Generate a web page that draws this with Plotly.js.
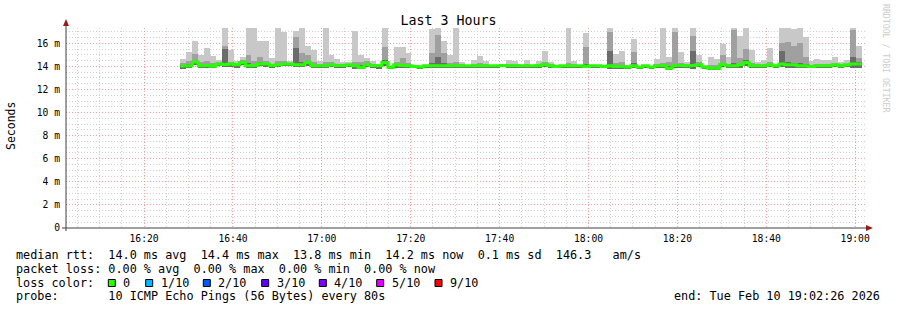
<!DOCTYPE html>
<html>
<head>
<meta charset="utf-8">
<script src="https://cdn.plot.ly/plotly-3.0.1.min.js"></script>
<style>html,body{margin:0;padding:0;background:#fff;}#chart{width:897px;height:310px;}</style>
</head>
<body>
<div id="chart"></div>
<script>
// ---- data (milliseconds), one value per 80 s step starting at stepStart ----
const stepStart = Date.UTC(2026, 1, 10, 16, 28, 10);
const stepSeconds = 80;
const pingMax = [14.66,15.24,16.2,14.96,15.6,14.9,14.6,17.36,15.4,14.45,14.81,17.36,17.36,16.2,16.2,14.7,17.36,16.98,14.5,17.07,17.36,15.8,15.4,14.5,17.36,15.0,14.66,14.38,14.38,17.07,14.96,14.7,14.45,14.23,17.36,14.1,15.68,15.68,15.15,14.1,14.14,14.14,17.27,17.36,16.2,15.0,17.36,14.38,14.14,14.52,14.9,14.5,14.14,14.14,14.14,14.52,14.45,14.14,14.52,14.14,14.5,15.35,14.4,14.09,14.14,17.36,14.5,14.14,16.9,14.14,14.14,14.1,17.36,15.1,15.35,14.1,16.4,14.05,14.14,14.05,14.66,17.36,14.8,17.36,15.24,14.38,17.36,14.96,14.1,14.8,14.66,15.97,14.8,17.36,16.65,17.36,15.4,14.38,14.6,15.6,14.1,17.36,17.36,17.27,17.36,16.55,14.5,14.66,14.6,14.6,14.8,14.38,14.6,17.36,15.8];
const pingUpper = [14.3,14.5,15.1,14.35,14.5,14.3,14.35,15.8,14.4,14.3,14.55,14.96,14.5,14.8,14.45,14.25,14.5,14.45,14.3,16.55,15.2,15.0,14.4,14.2,14.4,14.35,14.25,14.2,14.25,14.4,14.4,14.5,14.25,14.15,15.68,14.0,14.4,14.7,14.3,14.05,14.05,14.1,15.15,16.7,15.2,14.3,14.4,14.2,14.1,14.2,14.3,14.2,14.1,14.1,14.12,14.2,14.2,14.1,14.2,14.1,14.25,14.4,14.2,14.05,14.1,14.3,14.2,14.1,15.68,14.1,14.1,14.06,17.0,14.3,14.4,14.02,15.25,14.0,14.1,14.0,14.25,14.3,14.38,17.0,14.3,14.2,16.6,14.35,14.0,14.1,14.1,14.96,14.25,17.2,14.7,15.5,14.3,14.2,14.25,14.35,14.08,16.0,16.1,15.8,16.0,14.8,14.15,14.2,14.2,14.2,14.3,14.2,14.25,17.2,14.7];
const pingInner = [14.15,14.2,14.5,14.15,14.25,14.12,14.25,15.5,14.25,14.2,14.45,14.3,14.2,14.4,14.3,14.15,14.25,14.28,14.25,15.6,14.4,14.5,14.15,14.1,14.15,14.2,14.15,14.12,14.18,14.15,14.1,14.3,14.15,14.1,14.6,13.96,14.25,14.2,14.12,14.02,13.98,14.07,14.3,14.8,14.3,14.12,14.15,14.1,14.07,14.1,14.12,14.1,14.07,14.07,14.1,14.1,14.12,14.07,14.1,14.07,14.15,14.25,14.1,14.02,14.07,14.12,14.1,14.07,14.2,14.07,14.07,14.03,15.3,14.1,14.1,13.98,14.3,13.97,14.07,13.97,14.12,14.15,14.0,14.2,14.15,14.1,15.3,14.2,13.97,13.95,13.95,14.3,14.1,14.3,14.25,14.55,14.12,14.1,14.1,14.2,14.06,15.3,14.4,14.3,14.3,14.2,14.05,14.1,14.1,14.1,14.2,14.1,14.18,14.8,14.35];
const medianRtt = [14.03,14.05,14.38,14.05,14.09,14.02,14.2,14.17,14.2,14.14,14.35,14.05,14.09,14.23,14.2,14.09,14.14,14.2,14.2,14.14,14.14,14.35,14.05,14.05,14.05,14.14,14.09,14.09,14.14,14.05,13.9,14.17,14.09,14.05,14.35,13.93,14.14,14.09,14.05,14.0,13.94,14.05,14.05,14.05,14.05,14.05,14.05,14.05,14.05,14.05,14.05,14.05,14.05,14.05,14.09,14.05,14.09,14.05,14.05,14.05,14.09,14.17,14.05,14.0,14.05,14.05,14.05,14.05,14.0,14.05,14.05,14.0,14.05,14.0,14.0,13.94,14.05,13.94,14.05,13.94,14.05,14.09,13.85,14.09,14.09,14.05,14.09,14.14,13.94,13.85,13.85,14.17,14.05,14.05,14.14,14.35,14.05,14.05,14.05,14.14,14.05,14.2,14.14,14.14,14.05,14.05,14.0,14.05,14.05,14.05,14.14,14.05,14.14,14.2,14.2];
const pingMin = [13.75,13.85,14.1,13.9,13.9,13.85,14.0,13.95,13.95,13.9,14.1,13.85,13.85,14.0,13.95,13.85,13.95,14.0,14.0,13.95,13.95,14.0,13.85,13.85,13.85,13.95,13.9,13.9,13.95,13.75,13.75,13.95,13.9,13.75,14.05,13.75,13.9,13.9,13.85,13.85,13.8,13.9,13.9,13.85,13.9,13.9,13.9,13.9,13.9,13.9,13.85,13.9,13.9,13.9,13.95,13.9,13.9,13.9,13.9,13.9,13.9,13.95,13.9,13.85,13.9,13.9,13.9,13.9,13.85,13.9,13.9,13.85,13.75,13.8,13.75,13.8,13.85,13.8,13.9,13.8,13.9,13.9,13.7,13.85,13.9,13.85,13.8,13.95,13.8,13.7,13.7,13.95,13.85,13.85,13.9,14.05,13.9,13.85,13.85,13.95,13.9,13.95,13.9,13.9,13.85,13.85,13.85,13.85,13.85,13.85,13.95,13.9,13.95,13.9,13.85];
const yTickVals = [0, 2, 4, 6, 8, 10, 12, 14, 16];
const yTickText = ['0', '2 m', '4 m', '6 m', '8 m', '10 m', '12 m', '14 m', '16 m'];
const lossLabels = ['0', '1/10', '2/10', '3/10', '4/10', '5/10', '9/10'];
const lossColors = ['#26ff00', '#00b8ff', '#0059ff', '#5e00ff', '#7e00ff', '#dd00ff', '#ff0000'];
const statLines = [
  'median rtt:  14.0 ms avg  14.4 ms max  13.8 ms min  14.2 ms now  0.1 ms sd  146.3   am/s',
  'packet loss: 0.00 % avg  0.00 % max  0.00 % min  0.00 % now',
  'loss color:',
  'probe:       10 ICMP Echo Pings (56 Bytes) every 80s'
];
const endText = 'end: Tue Feb 10 19:02:26 2026';

// ---- layout geometry (pixels) ----
const PL = 66, PT = 28, PW = 800, PH = 200;
const fx = px => (px - PL) / PW;
const fy = py => (PT + PH - py) / PH;
const nb = s => s.replace(/ /g, '\u00a0');
const MONO = 'DejaVu Sans Mono';

const n = medianRtt.length;
const stepMs = stepSeconds * 1000;
const centers = medianRtt.map((_, i) => stepStart + (i + 0.5) * stepMs);
const starts = medianRtt.map((_, i) => stepStart + i * stepMs).concat([stepStart + n * stepMs]);

function band(top, color) {
  return {
    type: 'bar', x: centers, base: pingMin,
    y: top.map((v, i) => v - pingMin[i]),
    width: stepMs, marker: {color: color, line: {width: 0}},
    hoverinfo: 'skip', showlegend: false
  };
}
const traces = [
  band(pingMax, '#c8c8c8'),
  band(pingUpper, '#a0a0a0'),
  band(pingInner, '#6c6c6c'),
  {
    type: 'scatter', mode: 'lines', x: starts,
    y: medianRtt.concat([medianRtt[n - 1]]),
    line: {shape: 'hv', color: '#26ff00', width: 3},
    hoverinfo: 'skip', showlegend: false
  }
];

const shapes = [];
const annotations = [];
// axis lines and arrows
shapes.push({type: 'line', xref: 'paper', yref: 'paper', x0: fx(66), x1: fx(66), y0: fy(231), y1: fy(24), line: {color: '#404040', width: 1}});
shapes.push({type: 'line', xref: 'paper', yref: 'paper', x0: fx(62), x1: fx(868), y0: fy(228), y1: fy(228), line: {color: '#404040', width: 1}});
shapes.push({type: 'path', xref: 'paper', yref: 'paper', fillcolor: '#9a1a1a', line: {width: 0},
  path: `M ${fx(66)} ${fy(19)} L ${fx(63)} ${fy(26)} L ${fx(69)} ${fy(26)} Z`});
shapes.push({type: 'path', xref: 'paper', yref: 'paper', fillcolor: '#9a1a1a', line: {width: 0},
  path: `M ${fx(873)} ${fy(228)} L ${fx(866)} ${fy(225)} L ${fx(866)} ${fy(231)} Z`});

// y title
annotations.push({xref: 'paper', yref: 'paper', x: fx(11), y: fy(126), text: 'Seconds', textangle: -90,
  showarrow: false, font: {family: MONO, size: 11.5, color: '#000'}, xanchor: 'center', yanchor: 'middle'});
// watermark
annotations.push({xref: 'paper', yref: 'paper', x: fx(886), y: fy(59), text: nb('RRDTOOL / TOBI OETIKER'), textangle: 90,
  showarrow: false, font: {family: MONO, size: 8.2, color: '#cccccc'}, xanchor: 'center', yanchor: 'middle'});

// stat lines
const lineY = [255, 268.5, 282.5, 296];
statLines.forEach((s, k) => {
  annotations.push({xref: 'paper', yref: 'paper', x: fx(14), y: fy(lineY[k]), text: nb(s), showarrow: false,
    font: {family: MONO, size: 11.8, color: '#000'}, xanchor: 'left', yanchor: 'middle'});
});
annotations.push({xref: 'paper', yref: 'paper', x: fx(882), y: fy(296), text: nb(endText), showarrow: false,
  font: {family: MONO, size: 11.8, color: '#000'}, xanchor: 'right', yanchor: 'middle'});

// loss color legend
const boxX = [108.3, 145.7, 203.3, 261.7, 319.3, 376.7, 435];
lossLabels.forEach((lab, k) => {
  shapes.push({type: 'rect', xref: 'paper', yref: 'paper', x0: fx(boxX[k]), x1: fx(boxX[k] + 7),
    y0: fy(286.5), y1: fy(279.5), fillcolor: lossColors[k], line: {color: '#000', width: 1}});
  annotations.push({xref: 'paper', yref: 'paper', x: fx(boxX[k] + 13), y: fy(lineY[2]), text: lab, showarrow: false,
    font: {family: MONO, size: 11.8, color: '#000'}, xanchor: 'left', yanchor: 'middle'});
});

const layout = {
  width: 897, height: 310,
  margin: {l: PL, r: 897 - PL - PW, t: PT, b: 310 - PT - PH, autoexpand: false},
  paper_bgcolor: '#ffffff', plot_bgcolor: '#ffffff',
  barmode: 'overlay', bargap: 0, showlegend: false,
  title: {text: 'Last 3 Hours', font: {family: MONO, size: 13.3, color: '#000'},
    x: 0.5, xref: 'container', xanchor: 'center', y: 1 - 20 / 310, yref: 'container', yanchor: 'middle'},
  xaxis: {
    type: 'date', range: ['2026-02-10 16:02:26', '2026-02-10 19:02:26'],
    tick0: '2026-02-10 16:00:00', dtick: 20 * 60 * 1000, tickformat: '%H:%M',
    showgrid: true, gridcolor: '#f0a0a0', griddash: '1px,2px', gridwidth: 1,
    minor: {tick0: '2026-02-10 16:00:00', dtick: 5 * 60 * 1000, showgrid: true, gridcolor: '#cfcfcf', griddash: '1px,2px', gridwidth: 1},
    zeroline: false, showline: false, ticks: '', ticklabelstandoff: 3,
    tickfont: {family: MONO, size: 9.7, color: '#000'}, fixedrange: true
  },
  yaxis: {
    range: [0, 17.33], tickmode: 'array', tickvals: yTickVals, ticktext: yTickText,
    showgrid: true, gridcolor: '#f0a0a0', griddash: '1px,2px', gridwidth: 1,
    minor: {dtick: 0.5, tick0: 0, showgrid: true, gridcolor: '#cfcfcf', griddash: '1px,2px', gridwidth: 1},
    zeroline: false, showline: false, ticks: '', ticklabelstandoff: 5,
    tickfont: {family: MONO, size: 9.7, color: '#000'}, fixedrange: true
  },
  shapes: shapes,
  annotations: annotations
};

Plotly.newPlot('chart', traces, layout, {staticPlot: true, displayModeBar: false});
</script>
</body>
</html>
